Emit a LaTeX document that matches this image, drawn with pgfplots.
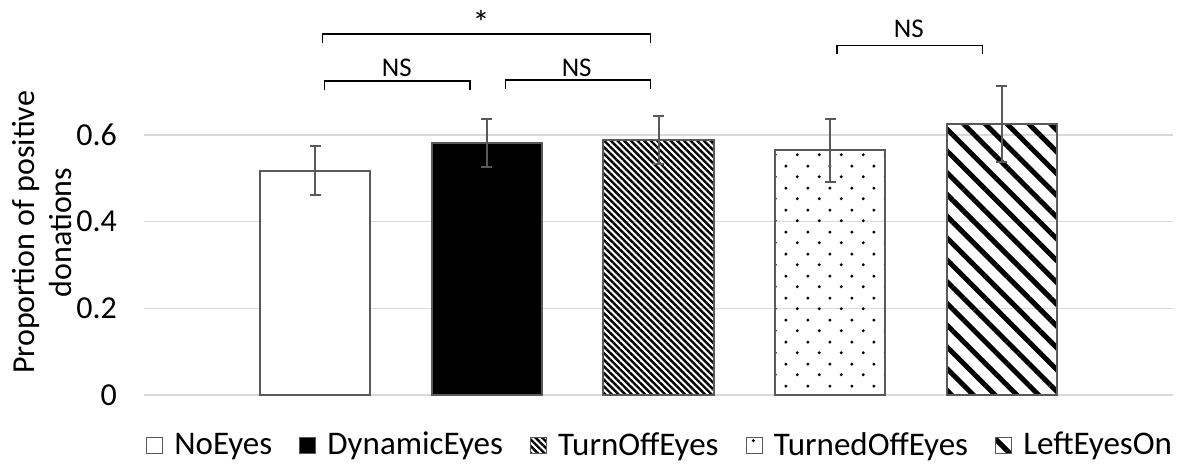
\documentclass[border=0pt]{standalone}
\usepackage{pgfplots}
\pgfplotsset{compat=1.18}
\usepackage{fontspec}
\setmainfont{Carlito}
\usetikzlibrary{patterns.meta}
\definecolor{bordergray}{HTML}{595959}
\definecolor{gridgray}{HTML}{D9D9D9}
\pgfdeclarepatternformonly{mydots}{\pgfpointorigin}{\pgfqpoint{11pt}{11pt}}{\pgfqpoint{11pt}{11pt}}{%
  \pgfpathcircle{\pgfqpoint{2.75pt}{2.75pt}}{0.85pt}%
  \pgfpathcircle{\pgfqpoint{8.25pt}{8.25pt}}{0.85pt}%
  \pgfusepath{fill}%
}

\begin{document}
\begin{tikzpicture}
\begin{axis}[
  scale only axis,
  width=514.5pt, height=151.7pt,
  xmin=-1, xmax=5, ymin=0, ymax=0.7,
  ytick={0,0.2,0.4,0.6},
  yticklabels={0,0.2,0.4,0.6},
  xtick=\empty,
  axis line style={draw=none},
  major tick length=0pt,
  ymajorgrids,
  grid style={gridgray, line width=0.75pt},
  ybar, bar width=55pt,
  clip=false,
  font=\fontsize{16}{18.3}\selectfont,
  tick label style={font=\fontsize{16}{18}\selectfont, black},
  /pgf/number format/assume math mode=true,
  yticklabel style={xshift=-10pt},
  ylabel={Proportion of positive\\donations},
  ylabel style={align=center, at={(axis description cs:-0.099,0.536)}, anchor=center, font=\fontsize{16}{18.3}\selectfont},
  legend style={at={(axis description cs:0.503,-0.165)}, anchor=center, legend columns=-1, draw=none, fill=none,
    font=\fontsize{16.5}{19}\selectfont,
    nodes={inner xsep=2.5pt, inner ysep=3pt},
    /tikz/every odd column/.append style={column sep=3pt},
    /tikz/every even column/.append style={column sep=11pt}},
  legend image code/.code={\draw[#1, line width=0.6pt] (0pt,-4pt) rectangle (8pt,4pt);},
  error bars/error bar style={bordergray, line width=1pt},
  error bars/error mark options={bordergray, line width=1pt, mark size=2.75pt, rotate=90},
]
\addplot[bar shift=0pt, draw=bordergray, line width=1pt, fill=white,
  error bars/.cd, y dir=both, y explicit]
  coordinates {(0,0.518) +- (0,0.056)};
\addlegendentry{NoEyes}
\addplot[bar shift=0pt, draw=bordergray, line width=1pt, fill=black,
  error bars/.cd, y dir=both, y explicit]
  coordinates {(1,0.582) +- (0,0.056)};
\addlegendentry{DynamicEyes}
\addplot[bar shift=0pt, draw=bordergray, line width=1pt,
  pattern={Lines[angle=-45,distance=2.35pt,line width=1.2pt]}, pattern color=black,
  error bars/.cd, y dir=both, y explicit]
  coordinates {(2,0.589) +- (0,0.055)};
\addlegendentry{TurnOffEyes}
\addplot[bar shift=0pt, draw=bordergray, line width=1pt,
  pattern=mydots, pattern color=black,
  error bars/.cd, y dir=both, y explicit]
  coordinates {(3,0.565) +- (0,0.073)};
\addlegendentry{TurnedOffEyes}
\addplot[bar shift=0pt, draw=bordergray, line width=1pt,
  pattern={Lines[angle=-45,distance=7.7pt,line width=2.5pt]}, pattern color=black,
  error bars/.cd, y dir=both, y explicit]
  coordinates {(4,0.625) +- (0,0.088)};
\addlegendentry{LeftEyesOn}

\draw[black, line width=0.7pt] (axis cs:0.041,0.813) -- (axis cs:0.041,0.833) -- (axis cs:1.955,0.833) -- (axis cs:1.955,0.813);
\draw[black, line width=0.7pt] (axis cs:0.053,0.704) -- (axis cs:0.053,0.725) -- (axis cs:0.902,0.725) -- (axis cs:0.902,0.704);
\draw[black, line width=0.7pt] (axis cs:1.107,0.706) -- (axis cs:1.107,0.727) -- (axis cs:1.955,0.727) -- (axis cs:1.955,0.706);
\draw[black, line width=0.7pt] (axis cs:3.04,0.787) -- (axis cs:3.04,0.806) -- (axis cs:3.889,0.806) -- (axis cs:3.889,0.787);
\node[anchor=base, font=\fontsize{17}{19}\selectfont, inner sep=0pt] at (axis cs:0.966,0.831) {*};
\node[anchor=base, font=\fontsize{13.5}{16}\selectfont, inner sep=0pt] at (axis cs:0.474,0.736) {NS};
\node[anchor=base, font=\fontsize{13.5}{16}\selectfont, inner sep=0pt] at (axis cs:1.523,0.736) {NS};
\node[anchor=base, font=\fontsize{13.5}{16}\selectfont, inner sep=0pt] at (axis cs:3.46,0.826) {NS};

\coordinate (bl) at (rel axis cs:0,0);
\coordinate (tr) at (rel axis cs:1,1);
\end{axis}
\pgfresetboundingbox
\path[use as bounding box] ([xshift=-72pt,yshift=-36pt]bl) rectangle ([xshift=8.5pt,yshift=45.85pt]tr);
\end{tikzpicture}
\end{document}
